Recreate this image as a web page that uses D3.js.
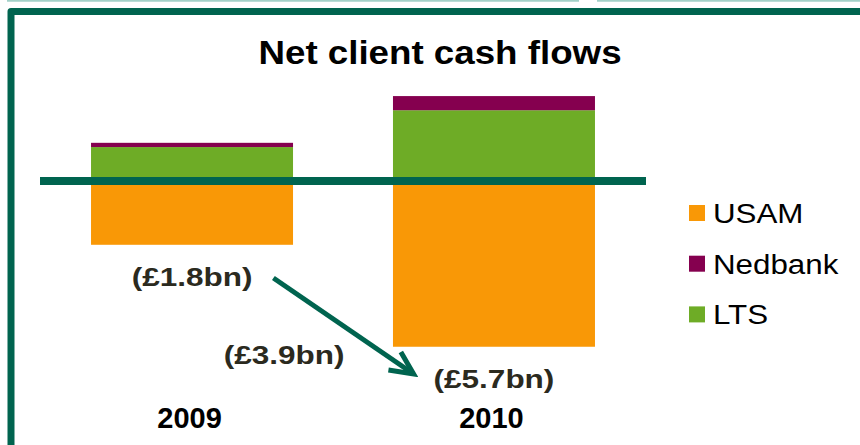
<!DOCTYPE html>
<html>
<head>
<meta charset="utf-8">
<script src="https://cdn.jsdelivr.net/npm/d3@7"></script>
<style>
    body { margin: 0; background: #ffffff; }
    svg { display: block; }
</style>
</head>
<body>
<div id="chart"></div>
<script>
const years = ["2009", "2010"];
const usam = [-4.5, -11.7];
const nedbank = [0.3, 1.0];
const lts = [2.4, 5.0];
const legendNames = ["USAM", "Nedbank", "LTS"];
const stackKeys = ["LTS", "Nedbank", "USAM"];

const width = 860;
const height = 445;
const green = "#00644f";
const colours = { USAM: "#f99806", Nedbank: "#85004f", LTS: "#6eac26" };
const stretch = 1.26;

const rows = years.map((d, i) => ({
    year: d,
    USAM: usam[i],
    Nedbank: nedbank[i],
    LTS: lts[i],
}));
const nets = rows.map((d) => d.USAM + d.Nedbank + d.LTS);
const fmt = (v) => "(£" + Math.abs(v).toFixed(1) + "bn)";

const svg = d3
    .select("#chart")
    .append("svg")
    .attr("width", width)
    .attr("height", height);

// slide frame
svg.append("line")
    .attr("x1", 7).attr("x2", 579).attr("y1", 0.8).attr("y2", 0.8)
    .attr("stroke", "#a3d1c8").attr("stroke-width", 2);
svg.append("line")
    .attr("x1", 597).attr("x2", width).attr("y1", 0.8).attr("y2", 0.8)
    .attr("stroke", "#a3d1c8").attr("stroke-width", 2);
svg.append("path")
    .attr("d", `M11,${height + 10} L11,11.5 L${width + 10},11.5`)
    .attr("fill", "none")
    .attr("stroke", green)
    .attr("stroke-width", 7)
    .attr("stroke-linejoin", "round");

svg.append("text")
    .attr("transform", "translate(440,64) scale(1.08,1)")
    .attr("text-anchor", "middle")
    .style("font-family", "'Liberation Sans', Arial, sans-serif")
    .style("font-weight", "bold")
    .style("font-size", "34px")
    .style("fill", "#000")
    .text("Net client cash flows");

const x = d3
    .scaleBand()
    .domain(years)
    .range([40, 646])
    .paddingInner(0.331)
    .paddingOuter(0.169);
const y = d3.scaleLinear().domain([-12, 6.5]).range([351, 89]);

const series = d3
    .stack()
    .keys(stackKeys)
    .offset(d3.stackOffsetDiverging)(rows);

const bars = svg.append("g").attr("id", "bars");
bars.selectAll("g")
    .data(series)
    .enter()
    .append("g")
    .attr("fill", (s) => colours[s.key])
    .selectAll("rect")
    .data((s) => s)
    .enter()
    .append("rect")
    .attr("x", (d) => x(d.data.year))
    .attr("width", x.bandwidth())
    .attr("y", (d) => y(Math.max(d[0], d[1])))
    .attr("height", (d) => Math.abs(y(d[0]) - y(d[1])));

// zero line
svg.append("line")
    .attr("x1", x.range()[0])
    .attr("x2", x.range()[1])
    .attr("y1", y(0))
    .attr("y2", y(0))
    .attr("stroke", green)
    .attr("stroke-width", 8);

// year labels
const xAxisGroup = svg
    .append("g")
    .attr("transform", "translate(0,400)")
    .call(d3.axisBottom(x).tickSize(0).tickPadding(7));
xAxisGroup.select(".domain").remove();
xAxisGroup.selectAll("text")
    .attr("dx", -2.5)
    .style("font-family", "'Liberation Sans', Arial, sans-serif")
    .style("font-weight", "bold")
    .style("font-size", "29px")
    .style("fill", "#000");

// net totals
const labelFont = (sel) =>
    sel
        .style("font-family", "'Liberation Sans', Arial, sans-serif")
        .style("font-weight", "bold")
        .style("font-size", "25px")
        .style("fill", "#2b2a1e");

const netPos = rows.map((d) => [x(d.year) + x.bandwidth() / 2, y(d.USAM) + 41]);
const netLabels = svg
    .append("g")
    .selectAll("text")
    .data(rows)
    .enter()
    .append("text")
    .attr("transform", (d, i) => `translate(${netPos[i][0]},${netPos[i][1]}) scale(${stretch},1)`)
    .attr("text-anchor", "middle")
    .text((d, i) => fmt(nets[i]))
    .call(labelFont);

const b0 = netLabels.nodes()[0].getBBox();
const b1 = netLabels.nodes()[1].getBBox();
const start = [
    netPos[0][0] + (b0.x + b0.width) * stretch + 21,
    netPos[0][1] + b0.y + b0.height / 2 + 1,
];
const end = [
    netPos[1][0] + b1.x * stretch - 20,
    netPos[1][1] + b1.y + b1.height / 2 - 5,
];

svg.append("defs")
    .append("marker")
    .attr("id", "head")
    .attr("markerUnits", "userSpaceOnUse")
    .attr("viewBox", "-30 -15 35 30")
    .attr("markerWidth", 35)
    .attr("markerHeight", 30)
    .attr("refX", 0)
    .attr("refY", 0)
    .attr("orient", "auto")
    .append("path")
    .attr("d", "M-23,-11 L0,0 L-23,11")
    .attr("fill", "none")
    .attr("stroke", green)
    .attr("stroke-width", 5);

svg.append("line")
    .attr("x1", start[0])
    .attr("y1", start[1])
    .attr("x2", end[0])
    .attr("y2", end[1])
    .attr("stroke", green)
    .attr("stroke-width", 5)
    .attr("marker-end", "url(#head)");

svg.append("text")
    .attr("transform", `translate(${(start[0] + end[0]) / 2 + 1},${(start[1] + end[1]) / 2 + 38}) scale(${stretch},1)`)
    .attr("text-anchor", "end")
    .text(fmt(nets[1] - nets[0]))
    .call(labelFont);

// legend
const legend = svg
    .append("g")
    .selectAll("g")
    .data(legendNames)
    .enter()
    .append("g")
    .attr("transform", (d, i) => `translate(689,${205 + i * 50.7})`);
legend.append("rect")
    .attr("width", 16)
    .attr("height", 16)
    .attr("fill", (d) => colours[d]);
legend.append("text")
    .attr("transform", "translate(24,18) scale(1.16,1)")
    .style("font-family", "'Liberation Sans', Arial, sans-serif")
    .style("font-size", "27px")
    .style("fill", "#000")
    .text((d) => d);
</script>
</body>
</html>
